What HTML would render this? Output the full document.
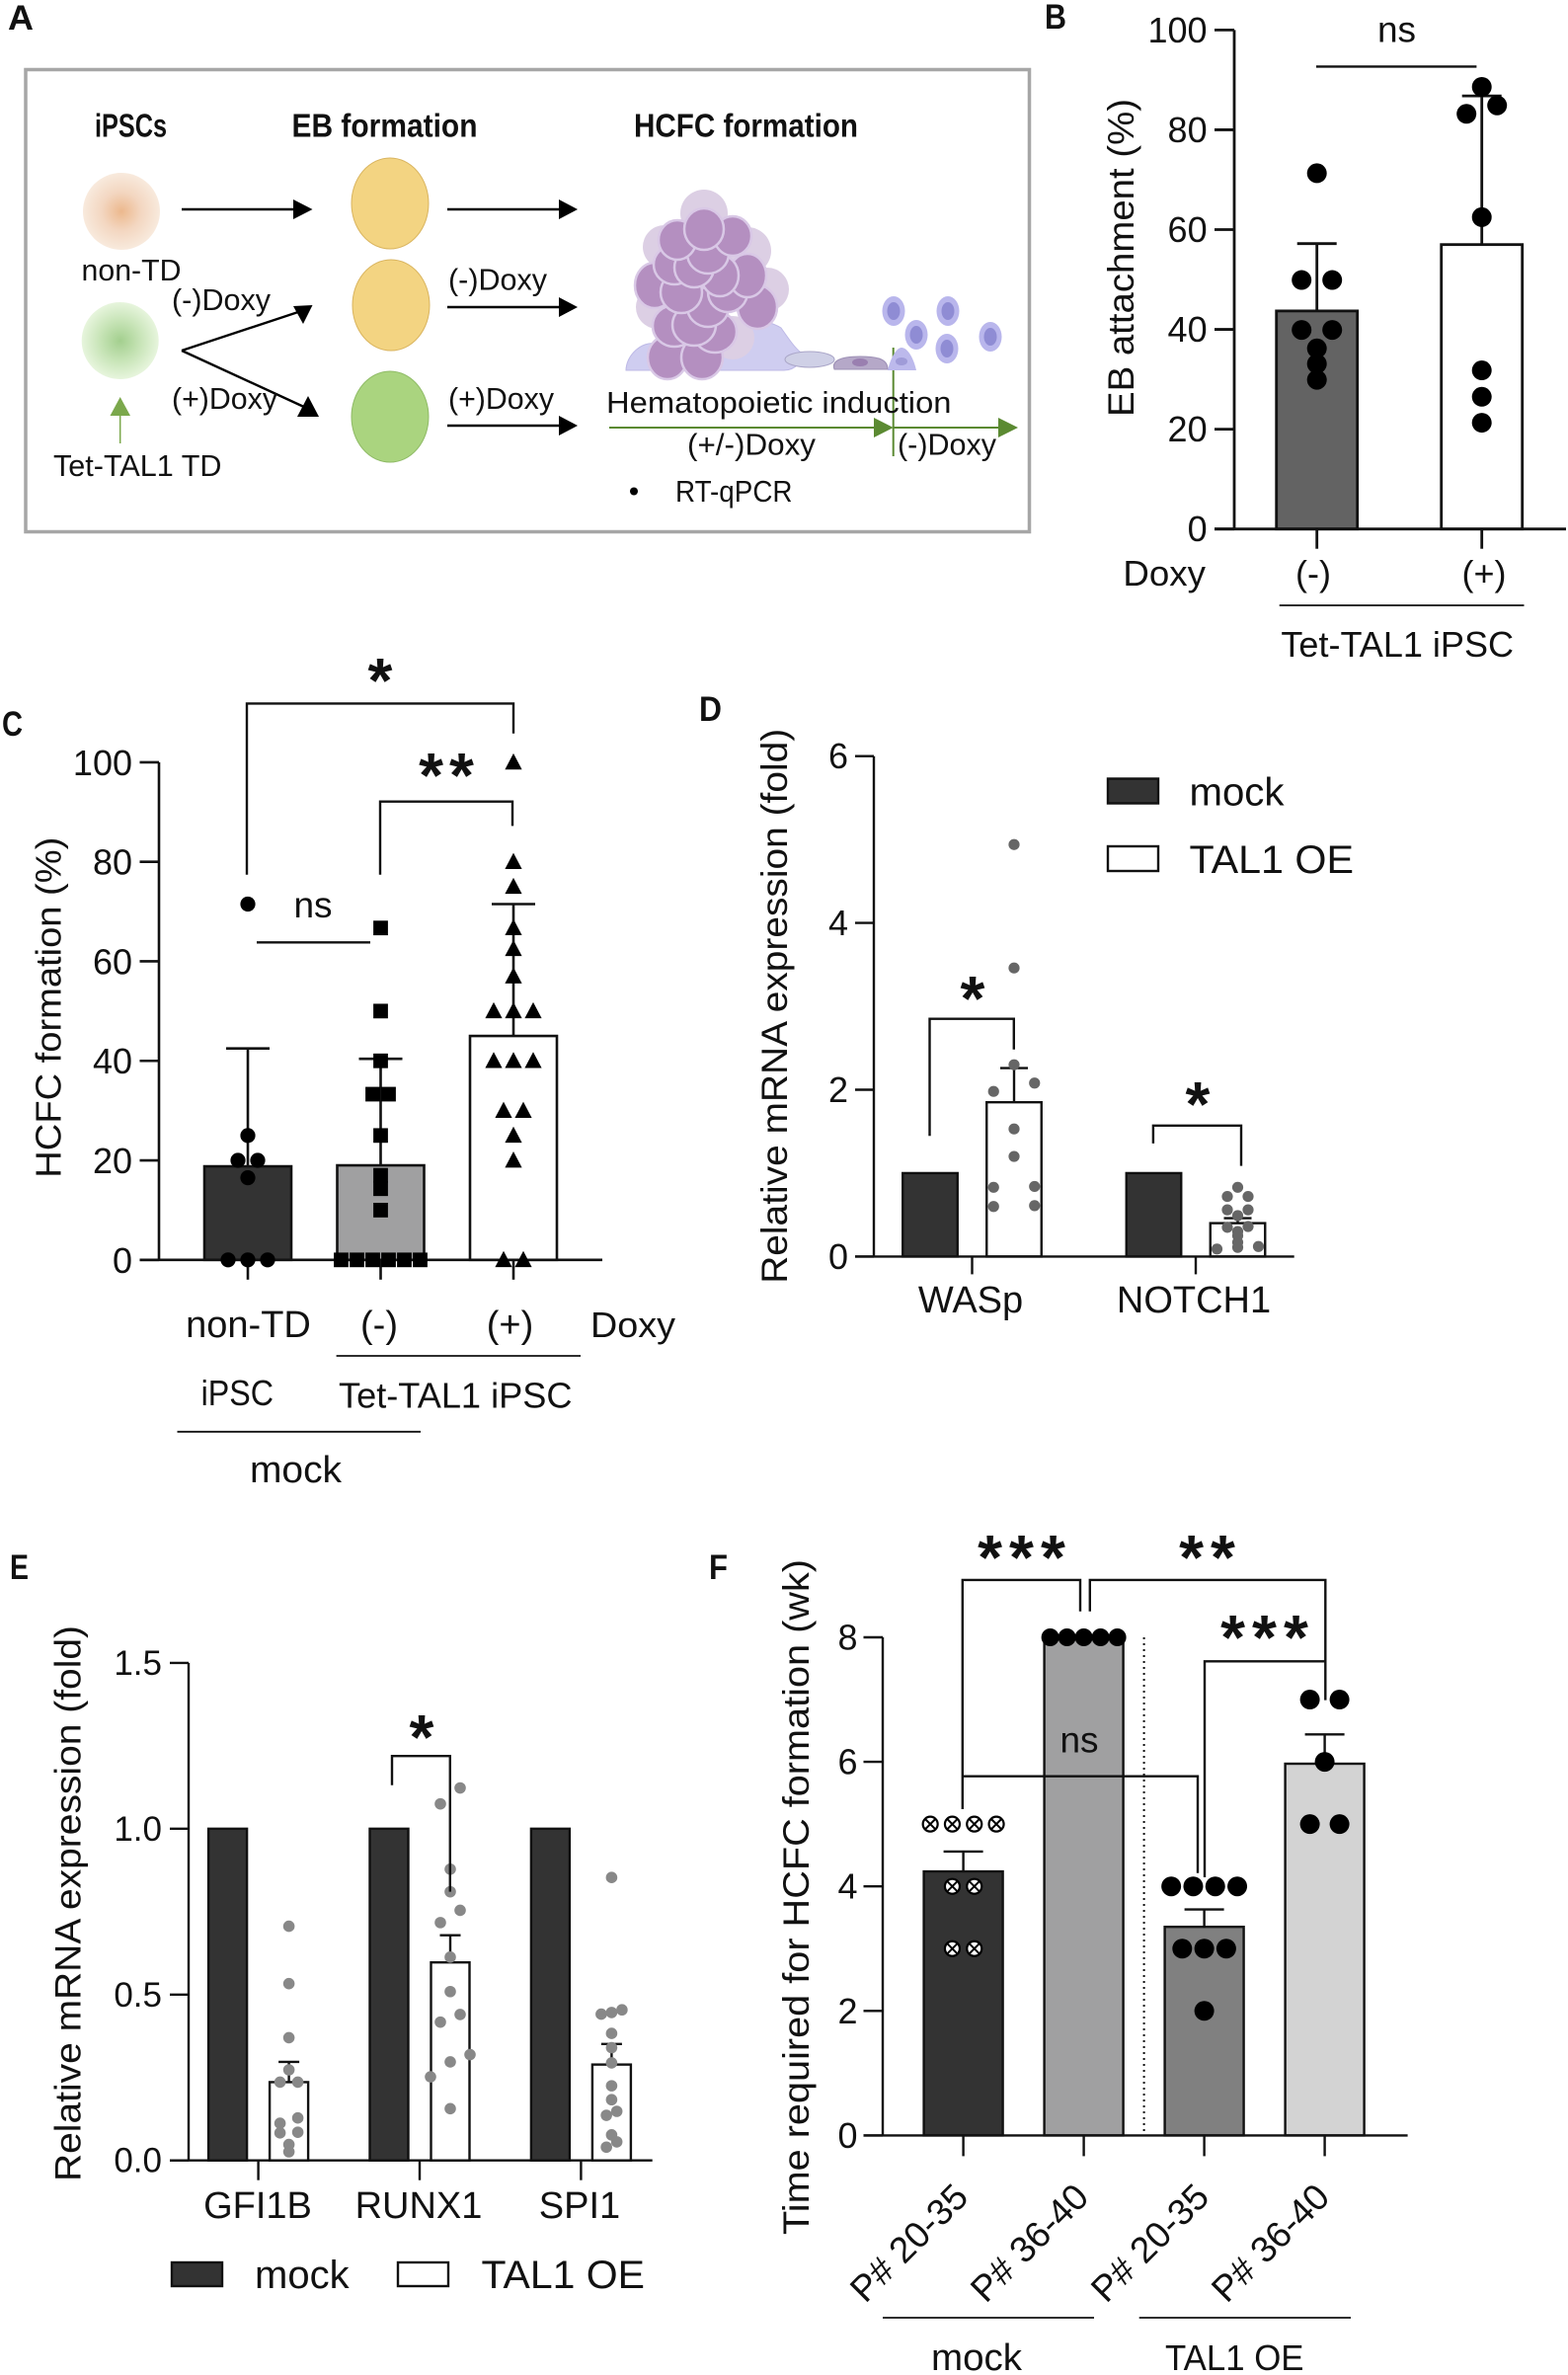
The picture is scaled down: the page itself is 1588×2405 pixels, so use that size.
<!DOCTYPE html>
<html lang="en">
<head>
<meta charset="utf-8">
<title>TAL1 iPSC figure</title>
<style>
html,body{margin:0;padding:0;background:#fff;}
svg{display:block;font-family:"Liberation Sans",sans-serif;}
text{fill:#111;}
.ln{stroke:#111;stroke-width:2.4;fill:none;}
.thin{stroke:#111;stroke-width:1.8;fill:none;}
.star{font-weight:bold;font-size:64px;text-anchor:middle;}
.lab{font-weight:bold;font-size:35px;}
.sch{font-size:31px;}
.schb{font-size:33px;font-weight:bold;}
</style>
</head>
<body>
<svg id="figure" xmlns="http://www.w3.org/2000/svg" width="1588" height="2405" viewBox="0 0 1588 2405">
<defs>
<radialGradient id="gradOrange"><stop offset="0" stop-color="#ecb88d"/><stop offset="0.5" stop-color="#f3d6c0"/><stop offset="1" stop-color="#f8eadd"/></radialGradient>
<radialGradient id="gradGreen"><stop offset="0" stop-color="#a3cf8e"/><stop offset="0.55" stop-color="#c9e5b9"/><stop offset="1" stop-color="#e7f5dd"/></radialGradient>
</defs>
<rect width="1588" height="2405" fill="#fff"/>

<!-- panel letters -->
<text class="lab" x="8" y="30" textLength="26" lengthAdjust="spacingAndGlyphs">A</text>
<text class="lab" x="1058" y="29" textLength="22" lengthAdjust="spacingAndGlyphs">B</text>
<text class="lab" x="2" y="745" textLength="21" lengthAdjust="spacingAndGlyphs">C</text>
<text class="lab" x="708" y="730" textLength="23" lengthAdjust="spacingAndGlyphs">D</text>
<text class="lab" x="10" y="1599" textLength="19" lengthAdjust="spacingAndGlyphs">E</text>
<text class="lab" x="718" y="1599" textLength="19" lengthAdjust="spacingAndGlyphs">F</text>

<!-- panel A schematic -->
<g id="panel-a">
<rect x="26" y="70.5" width="1016.5" height="468" fill="#fff" stroke="#a6a6a6" stroke-width="3.5"/>
<text class="schb" x="96" y="138.6" textLength="73" lengthAdjust="spacingAndGlyphs">iPSCs</text>
<text class="schb" x="295.5" y="138.6" textLength="188" lengthAdjust="spacingAndGlyphs">EB formation</text>
<text class="schb" x="642" y="138.6" textLength="227" lengthAdjust="spacingAndGlyphs">HCFC formation</text>
<circle cx="123" cy="214" r="39" fill="url(#gradOrange)"/>
<circle cx="121.7" cy="345" r="39" fill="url(#gradGreen)"/>
<ellipse cx="395" cy="206" rx="39" ry="46" fill="#f3d482" stroke="#d9b45f"/>
<ellipse cx="396" cy="309" rx="39" ry="46" fill="#f3d482" stroke="#d9b45f"/>
<ellipse cx="395" cy="422" rx="39" ry="46" fill="#aad47f" stroke="#8fbb66"/>
<g stroke="#000" stroke-width="2.4" fill="#000">
<path d="M184 212H298" /><path d="M297 202L316.5 212L297 222Z" stroke="none"/>
<path d="M453 212H567" /><path d="M566 202L585 212L566 222Z" stroke="none"/>
<path d="M453 311H567" /><path d="M566 301L585 311L566 321Z" stroke="none"/>
<path d="M453 431H567" /><path d="M566 421L585 431L566 441Z" stroke="none"/>
<path d="M184 355L305 315" /><path d="M297 310L316.5 309L307 328Z" stroke="none"/>
<path d="M184 355L310 413" /><path d="M312 401L323 422L301 422Z" stroke="none"/>
</g>
<g>
<path d="M121.7 449V415" stroke="#7ba84c" stroke-width="1.5"/><path d="M111.5 421L121.7 402L132 421Z" fill="#7ba84c"/>
<path d="M617 433H888" stroke="#5b8a32" stroke-width="2"/><path d="M885 423L904.7 433L885 443Z" fill="#5b8a32"/>
<path d="M904.7 433H1013" stroke="#5b8a32" stroke-width="2"/><path d="M1011 423L1031 433L1011 443Z" fill="#5b8a32"/>
<path d="M904.7 352V462" stroke="#5b8a32" stroke-width="2"/>
</g>
<g>
<path d="M634 375C634 360 650 345 664 348C680 350 700 342 730 340C745 320 775 322 791 332C800 345 805 352 811 357C815 365 805 375 794 375Z" fill="#cfcdf0" stroke="#bdb9e6"/>
<g fill="#dccfe4">
<circle cx="713" cy="216" r="24"/><circle cx="777" cy="293" r="22"/><circle cx="757" cy="254" r="24"/><circle cx="673" cy="250" r="22"/><circle cx="666" cy="311" r="22"/><circle cx="742" cy="342" r="22"/>
</g>
<g fill="#b48fc0" stroke="#d9c8e6" stroke-width="2.5">
<ellipse cx="676" cy="362" rx="20" ry="22"/><ellipse cx="711" cy="362" rx="21" ry="22"/><ellipse cx="724" cy="336" rx="22" ry="21"/><ellipse cx="683" cy="330" rx="22" ry="21"/><ellipse cx="703" cy="329" rx="22" ry="21"/><ellipse cx="767" cy="311" rx="20" ry="22"/><ellipse cx="663" cy="289" rx="20" ry="23"/><ellipse cx="717" cy="311" rx="21" ry="20"/><ellipse cx="737" cy="296" rx="20" ry="20"/><ellipse cx="690" cy="296" rx="21" ry="21"/><ellipse cx="757" cy="279" rx="19" ry="22"/><ellipse cx="729" cy="279" rx="19" ry="21"/><ellipse cx="683" cy="268" rx="21" ry="20"/><ellipse cx="703" cy="271" rx="20" ry="20"/><ellipse cx="717" cy="257" rx="21" ry="20"/><ellipse cx="686" cy="243" rx="19" ry="20"/><ellipse cx="742" cy="239" rx="19" ry="20"/><ellipse cx="713" cy="232" rx="20" ry="21"/>
</g>
<ellipse cx="820" cy="364" rx="25" ry="8" fill="#cfd0e6" stroke="#aaa6c8"/>
<path d="M845 374C842 366 850 361 871 361C890 361 899 364 899 374Z" fill="#b5a8c8" stroke="#9d90b5"/>
<ellipse cx="871" cy="367" rx="8" ry="4" fill="#9a7fb0"/>
<path d="M899 375C902 362 908 352 913 352C919 352 925 362 928 375Z" fill="#bcb9ec"/><ellipse cx="913" cy="366" rx="6" ry="4" fill="#9f9bd8"/>
<g fill="#b9b6ec"><ellipse cx="905" cy="315" rx="11.5" ry="15"/><ellipse cx="960" cy="315" rx="11.5" ry="15"/><ellipse cx="928" cy="339" rx="11.5" ry="15"/><ellipse cx="959" cy="353" rx="11.5" ry="15"/><ellipse cx="1003" cy="341" rx="11.5" ry="15"/></g>
<g fill="#8f8cd4"><ellipse cx="905" cy="315" rx="6.5" ry="9"/><ellipse cx="960" cy="315" rx="6.5" ry="9"/><ellipse cx="928" cy="339" rx="6.5" ry="9"/><ellipse cx="959" cy="353" rx="6.5" ry="9"/><ellipse cx="1003" cy="341" rx="6.5" ry="9"/></g>
</g>
<text class="sch" x="82.5" y="284" textLength="101" lengthAdjust="spacingAndGlyphs">non-TD</text>
<text class="sch" x="174" y="314" textLength="100" lengthAdjust="spacingAndGlyphs">(-)Doxy</text>
<text class="sch" x="454" y="293.6" textLength="100" lengthAdjust="spacingAndGlyphs">(-)Doxy</text>
<text class="sch" x="174" y="414" textLength="107" lengthAdjust="spacingAndGlyphs">(+)Doxy</text>
<text class="sch" x="454" y="414" textLength="107" lengthAdjust="spacingAndGlyphs">(+)Doxy</text>
<text class="sch" x="54" y="482" textLength="170.5" lengthAdjust="spacingAndGlyphs">Tet-TAL1 TD</text>
<text class="sch" x="614" y="418" textLength="349.5" lengthAdjust="spacingAndGlyphs">Hematopoietic induction</text>
<text class="sch" x="696" y="460.7" textLength="130" lengthAdjust="spacingAndGlyphs">(+/-)Doxy</text>
<text class="sch" x="909" y="460.7" textLength="100" lengthAdjust="spacingAndGlyphs">(-)Doxy</text>
<circle cx="642" cy="497.5" r="4" fill="#000"/>
<text class="sch" x="684" y="508" textLength="118.5" lengthAdjust="spacingAndGlyphs">RT-qPCR</text>
</g>

<!-- chart layers, filled by script -->
<g id="panel-b"></g>
<g id="panel-c"></g>
<g id="panel-d"></g>
<g id="panel-e"></g>
<g id="panel-f"></g>

<!-- panel B annotations -->
<g>
<text transform="translate(1148 422) rotate(-90)" font-size="37" textLength="322" lengthAdjust="spacingAndGlyphs">EB attachment (%)</text>
<text x="1414.5" y="42.4" font-size="37" text-anchor="middle">ns</text>
<path class="ln" d="M1333 67.4H1495.4"/>
<text x="1137.4" y="593" font-size="36" textLength="83.6" lengthAdjust="spacingAndGlyphs">Doxy</text>
<path class="thin" d="M1295.7 613H1543.5"/>
<text x="1297.4" y="665" font-size="36" textLength="235.6" lengthAdjust="spacingAndGlyphs">Tet-TAL1 iPSC</text>
</g>

<!-- panel C annotations -->
<g>
<text transform="translate(61.6 1192.7) rotate(-90)" font-size="36" textLength="345" lengthAdjust="spacingAndGlyphs">HCFC formation (%)</text>
<path class="ln" d="M250 885.8V712.4H520V742.7"/>
<path class="ln" d="M385 885.8V811.7H519V836.4"/>
<path class="ln" d="M260 954.3H375"/>
<text class="star" x="385" y="711">*</text>
<text class="star" x="455" y="807" letter-spacing="6">**</text>
<text x="317" y="929" font-size="37" text-anchor="middle">ns</text>
<text x="598" y="1354" font-size="36" textLength="86" lengthAdjust="spacingAndGlyphs">Doxy</text>
<path class="thin" d="M340.6 1373H588"/>
<text x="203.6" y="1423" font-size="36" textLength="73.4" lengthAdjust="spacingAndGlyphs">iPSC</text>
<text x="343" y="1425.6" font-size="36" textLength="236.5" lengthAdjust="spacingAndGlyphs">Tet-TAL1 iPSC</text>
<path class="thin" d="M179.5 1449.8H426"/>
<text x="253" y="1501" font-size="38" textLength="93" lengthAdjust="spacingAndGlyphs">mock</text>
</g>

<!-- panel D annotations -->
<g>
<text transform="translate(797 1299.8) rotate(-90)" font-size="37" textLength="562" lengthAdjust="spacingAndGlyphs">Relative mRNA expression (fold)</text>
<path class="ln" d="M941.5 1150.3V1031.7H1026.8V1062.8"/>
<path class="ln" d="M1167.9 1157.9V1139.8H1257V1180.6"/>
<text class="star" x="985" y="1033">*</text>
<text class="star" x="1213" y="1140">*</text>
<g>
<rect x="1122" y="788.5" width="51" height="25" fill="#333" stroke="#111" stroke-width="2.4"/>
<text x="1204.5" y="815.7" font-size="40" textLength="96" lengthAdjust="spacingAndGlyphs">mock</text>
<rect x="1122" y="857" width="51" height="25" fill="#fff" stroke="#111" stroke-width="2.4"/>
<text x="1204.5" y="884" font-size="40" textLength="166.5" lengthAdjust="spacingAndGlyphs">TAL1 OE</text>
</g>
</g>

<!-- panel E annotations -->
<g>
<text transform="translate(81.7 2209) rotate(-90)" font-size="37" textLength="563" lengthAdjust="spacingAndGlyphs">Relative mRNA expression (fold)</text>
<path class="ln" d="M397 1807.8V1778.2H455.8V1915.6"/>
<text class="star" x="427" y="1781">*</text>
<g>
<rect x="174" y="2291" width="51" height="24" fill="#333" stroke="#111" stroke-width="2.4"/>
<text x="258" y="2317" font-size="40" textLength="95.6" lengthAdjust="spacingAndGlyphs">mock</text>
<rect x="403" y="2291" width="51" height="24" fill="#fff" stroke="#111" stroke-width="2.4"/>
<text x="487.5" y="2317" font-size="40" textLength="165.5" lengthAdjust="spacingAndGlyphs">TAL1 OE</text>
</g>
</g>

<!-- panel F annotations (brackets drawn over bars) -->
<g id="panel-f-notes">
<text transform="translate(818.8 2263) rotate(-90)" font-size="37" textLength="684" lengthAdjust="spacingAndGlyphs">Time required for HCFC formation (wk)</text>
<path d="M1158.6 1658V2162" stroke="#111" stroke-width="2" stroke-dasharray="2 4" fill="none"/>
<path class="ln" d="M974.8 1832V1599.9H1094V1631.7"/>
<path class="ln" d="M1103.8 1631.7V1599.9H1342.3V1721.6"/>
<path class="ln" d="M1220 1901V1682.3H1342"/>
<path class="ln" d="M975 1798.7H1213V1896.7"/>
<text x="1093" y="1774.4" font-size="37" text-anchor="middle">ns</text>
<text class="star" x="1038" y="1599" letter-spacing="7">***</text>
<text class="star" x="1226" y="1599" letter-spacing="7">**</text>
<text class="star" x="1284" y="1680" letter-spacing="7">***</text>
<path class="thin" d="M894 2347H1108"/>
<path class="thin" d="M1153.7 2347H1368"/>
<text x="943" y="2400" font-size="38" textLength="92" lengthAdjust="spacingAndGlyphs">mock</text>
<text x="1180" y="2400" font-size="36" textLength="140.5" lengthAdjust="spacingAndGlyphs">TAL1 OE</text>
</g>

<script>
/* ---------- Panel B data ---------- */
const bCategories = ['(-)', '(+)'];
const bMeans = [43.7, 57];
const bErrorTops = [57.2, 86.8];
const bTickLabels = [0, 20, 40, 60, 80, 100];
const bPointsMinus = [71.3, 49.9, 49.9, 39.9, 39.9, 36.2, 33.1, 29.9];
const bPointsPlus = [88.6, 84.9, 83.2, 62.5, 31.8, 26.5, 21.3];

/* ---------- Panel C data ---------- */
const cCategories = ['non-TD', '(-)', '(+)'];
const cMeans = [18.8, 19, 45];
const cErrorTops = [42.5, 40.4, 71.5];
const cTickLabels = [0, 20, 40, 60, 80, 100];
const cPointsNonTd = [71.5, 25, 20, 20, 16.5, 0, 0, 0];
const cPointsMinus = [66.7, 50, 40, 33.3, 33.3, 25, 17, 14.3, 10, 0, 0, 0, 0, 0, 0];
const cPointsPlus = [100, 80, 75, 66.7, 62.5, 57, 50, 50, 50, 40, 40, 40, 30, 30, 25, 20, 0, 0];

/* ---------- Panel D data ---------- */
const dCategories = ['WASp', 'NOTCH1'];
const dMockMeans = [1, 1];
const dOeMeans = [1.85, 0.4];
const dOeErrorTops = [2.26, 0.46];
const dTickLabels = [0, 2, 4, 6];
const dPointsWasp = [4.94, 3.46, 2.3, 2.08, 1.98, 1.53, 1.2, 0.84, 0.83, 0.61, 0.6];
const dPointsNotch = [0.83, 0.72, 0.72, 0.56, 0.56, 0.49, 0.36, 0.35, 0.3, 0.25, 0.17, 0.12, 0.11, 0.09];

/* ---------- Panel E data ---------- */
const eCategories = ['GFI1B', 'RUNX1', 'SPI1'];
const eMockMeans = [1, 1, 1];
const eOeMeans = [0.236, 0.597, 0.289];
const eOeErrorTops = [0.297, 0.679, 0.351];
const eTickLabels = ['0.0', '0.5', '1.0', '1.5'];
const ePointsGfi = [0.706, 0.533, 0.37, 0.273, 0.236, 0.236, 0.128, 0.112, 0.085, 0.083, 0.048, 0.026];
const ePointsRunx = [1.123, 1.075, 0.878, 0.81, 0.754, 0.717, 0.613, 0.509, 0.44, 0.417, 0.319, 0.297, 0.252, 0.156];
const ePointsSpi = [0.853, 0.454, 0.446, 0.441, 0.383, 0.34, 0.294, 0.225, 0.183, 0.148, 0.136, 0.077, 0.056, 0.04];

/* ---------- Panel F data ---------- */
const fCategories = ['P# 20-35', 'P# 36-40', 'P# 20-35', 'P# 36-40'];
const fMeans = [4.24, 8, 3.35, 5.97];
const fErrorTops = [4.56, 8, 3.63, 6.44];
const fTickLabels = [0, 2, 4, 6, 8];
const fPointsMockEarly = [5, 5, 5, 5, 4, 4, 3, 3];
const fPointsMockLate = [8, 8, 8, 8, 8];
const fPointsOeEarly = [4, 4, 4, 4, 3, 3, 3, 2];
const fPointsOeLate = [7, 7, 6, 5, 5];

/* ---------- shared helpers ---------- */
const NS = 'http://www.w3.org/2000/svg';
const INK = '#111';

function mk(tag, attrs, parent) {
  const node = document.createElementNS(NS, tag);
  for (const k in attrs) node.setAttribute(k, attrs[k]);
  parent.appendChild(node);
  return node;
}
function yOf(p, v) { return p.y0 - (v / p.max) * (p.y0 - p.yTop); }
function xBand(p, i) { return p.x0 + p.step * i; }

function swarm(values, spacing, tol) {
  const sorted = values.slice().sort(function (a, b) { return a - b; });
  const out = [];
  let cluster = [];
  function flush() {
    cluster.forEach(function (v, i) {
      out.push({ v: v, dx: (i - (cluster.length - 1) / 2) * spacing });
    });
    cluster = [];
  }
  sorted.forEach(function (v) {
    if (cluster.length && v - cluster[cluster.length - 1] > tol) flush();
    cluster.push(v);
  });
  flush();
  return out;
}

function drawAxes(p, tickLabels, parent) {
  const yLine = mk('line', { x1: p.axisX, x2: p.axisX, y1: p.yTop, y2: p.y0, stroke: INK, 'stroke-width': p.sw }, parent);
  
  
  const xLine = mk('line', { x1: p.tickStart, x2: p.xEnd, y1: p.y0, y2: p.y0, stroke: INK, 'stroke-width': p.sw }, parent);
  
  
  tickLabels.forEach(function (label) {
    const y = yOf(p, Number(label));
    const tick = mk('line', { x1: p.tickStart, x2: p.axisX, y1: y, y2: y, stroke: INK, 'stroke-width': p.sw }, parent);
    
    
    const txt = mk('text', { x: p.labelEnd, y: y + p.labelDy, 'font-size': p.fs, 'text-anchor': 'end' }, parent);
    txt.textContent = String(label);
    
    
  });
}

function drawXTick(p, x, parent) {
  const tick = mk('line', { x1: x, x2: x, y1: p.y0, y2: p.y0 + p.tickLen, stroke: INK, 'stroke-width': p.sw }, parent);
  
  
}

function drawCategory(p, i, label, parent) {
  const txt = mk('text', { x: p.catX0 + p.catStep * i, y: p.catY, 'font-size': p.catFs, 'text-anchor': 'middle' }, parent);
  txt.textContent = label;
  
  
}

function drawBar(p, cx, value, fill, parent) {
  const top = yOf(p, value);
  const bar = mk('rect', { x: cx - p.barW / 2, y: top, width: p.barW, height: p.y0 - top, fill: fill, stroke: INK, 'stroke-width': p.barSw }, parent);
  
  
}

function drawError(p, cx, mean, errTop, parent) {
  if (errTop <= mean) return;
  const yA = yOf(p, mean), yB = yOf(p, errTop);
  const stem = mk('line', { x1: cx, x2: cx, y1: yA, y2: yB, stroke: INK, 'stroke-width': p.sw }, parent);
  
  
  const cap = mk('line', { x1: cx - p.capW / 2, x2: cx + p.capW / 2, y1: yB, y2: yB, stroke: INK, 'stroke-width': p.sw }, parent);
  
  
}

function drawPoints(p, cx, values, spacing, tol, shape, color, size, parent) {
  swarm(values, spacing, tol).forEach(function (pt) {
    const x = cx + pt.dx, y = yOf(p, pt.v);
    let el;
    if (shape === 'square') {
      el = mk('rect', { x: x - size, y: y - size, width: size * 2, height: size * 2, fill: color }, parent);
    } else if (shape === 'triangle') {
      el = mk('polygon', { points: (x - size) + ',' + (y + size * 0.85) + ' ' + x + ',' + (y - size * 1.05) + ' ' + (x + size) + ',' + (y + size * 0.85), fill: color }, parent);
    } else if (shape === 'cross') {
      el = mk('g', {}, parent);
      const ring = mk('circle', { cx: x, cy: y, r: size, fill: '#fff', stroke: '#000', 'stroke-width': 2.2 }, el);
      
      
      const k = size * 0.62;
      const mark = mk('path', { d: 'M' + (x - k) + ' ' + (y - k) + 'L' + (x + k) + ' ' + (y + k) + 'M' + (x + k) + ' ' + (y - k) + 'L' + (x - k) + ' ' + (y + k), stroke: '#000', 'stroke-width': 2, fill: 'none' }, el);
      
      
    } else {
      el = mk('circle', { cx: x, cy: y, r: size, fill: color }, parent);
    }
    
    
  });
}

/* ---------- Panel B ---------- */
const layoutB = { axisX: 1250, tickStart: 1230, xEnd: 1586, y0: 535.7, yTop: 30.4, max: 100, sw: 2.8, fs: 36, labelEnd: 1222.6, labelDy: 12.5, tickLen: 20, x0: 1333.7, step: 167, barW: 82, barSw: 2.8, capW: 40, catX0: 1330, catStep: 173, catY: 593, catFs: 36 };
(function () {
  const g = document.getElementById('panel-b');
  const fills = ['#636363', '#fff'];
  const series = [bPointsMinus, bPointsPlus];
  bMeans.forEach(function (m, i) { drawBar(layoutB, xBand(layoutB, i), m, fills[i], g); });
  drawAxes(layoutB, bTickLabels, g);
  bMeans.forEach(function (m, i) {
    const x = xBand(layoutB, i);
    drawXTick(layoutB, x, g);
    drawError(layoutB, x, m, bErrorTops[i], g);
    drawPoints(layoutB, x, series[i], 31, 2.5, 'circle', '#000', 10, g);
    drawCategory(layoutB, i, bCategories[i], g);
  });
})();

/* ---------- Panel C ---------- */
const layoutC = { axisX: 161, tickStart: 141.5, xEnd: 610, y0: 1275.8, yTop: 771.9, max: 100, sw: 2.6, fs: 36, labelEnd: 134, labelDy: 13, tickLen: 20, x0: 251, step: 134.5, barW: 88, barSw: 2.6, capW: 44, catX0: 251.5, catStep: 132.5, catY: 1354, catFs: 38 };
(function () {
  const g = document.getElementById('panel-c');
  const fills = ['#333333', '#a0a0a1', '#fff'];
  const series = [cPointsNonTd, cPointsMinus, cPointsPlus];
  const spacings = [20, 16, 20];
  const shapes = ['circle', 'square', 'triangle'];
  const sizes = [7.6, 7.4, 8.6];
  cMeans.forEach(function (m, i) { drawBar(layoutC, xBand(layoutC, i), m, fills[i], g); });
  drawAxes(layoutC, cTickLabels, g);
  cMeans.forEach(function (m, i) {
    const x = xBand(layoutC, i);
    drawXTick(layoutC, x, g);
    drawError(layoutC, x, m, cErrorTops[i], g);
    drawPoints(layoutC, x, series[i], spacings[i], 0.8, shapes[i], '#000', sizes[i], g);
    drawCategory(layoutC, i, cCategories[i], g);
  });
})();

/* ---------- Panel D ---------- */
const layoutD = { axisX: 885, tickStart: 866, xEnd: 1310.7, y0: 1272.4, yTop: 765.7, max: 6, sw: 2.4, fs: 36, labelEnd: 859, labelDy: 12.5, tickLen: 18, x0: 984.5, step: 226.5, dodge: 42.5, barW: 55.5, barSw: 2.4, capW: 28, catX0: 983, catStep: 226, catY: 1329, catFs: 38 };
(function () {
  const g = document.getElementById('panel-d');
  const series = [dPointsWasp, dPointsNotch];
  const spacings = [41.5, 21];
  const tols = [0.11, 0.03];
  dMockMeans.forEach(function (m, i) {
    const c = xBand(layoutD, i);
    drawBar(layoutD, c - layoutD.dodge, m, '#333', g);
    drawBar(layoutD, c + layoutD.dodge, dOeMeans[i], '#fff', g);
  });
  drawAxes(layoutD, dTickLabels, g);
  dMockMeans.forEach(function (m, i) {
    const c = xBand(layoutD, i);
    drawXTick(layoutD, c, g);
    drawError(layoutD, c + layoutD.dodge, dOeMeans[i], dOeErrorTops[i], g);
    drawPoints(layoutD, c + layoutD.dodge, series[i], spacings[i], tols[i], 'circle', '#666', 5.6, g);
    drawCategory(layoutD, i, dCategories[i], g);
  });
})();

/* ---------- Panel E ---------- */
const layoutE = { axisX: 191, tickStart: 172, xEnd: 660.7, y0: 2187.7, yTop: 1683.9, max: 1.5, sw: 2.4, fs: 35, labelEnd: 164, labelDy: 12, tickLen: 20, x0: 261.6, step: 163.4, dodge: 31, barW: 39, barSw: 2.4, capW: 21, catX0: 261, catStep: 163, catY: 2246, catFs: 38 };
(function () {
  const g = document.getElementById('panel-e');
  const series = [ePointsGfi, ePointsRunx, ePointsSpi];
  const spacings = [18, 20, 10.5];
  const tols = [0.02, 0.05, 0.02];
  eMockMeans.forEach(function (m, i) {
    const c = xBand(layoutE, i);
    drawBar(layoutE, c - layoutE.dodge, m, '#333', g);
    drawBar(layoutE, c + layoutE.dodge, eOeMeans[i], '#fff', g);
  });
  drawAxes(layoutE, eTickLabels, g);
  eMockMeans.forEach(function (m, i) {
    const c = xBand(layoutE, i);
    drawXTick(layoutE, c, g);
    drawError(layoutE, c + layoutE.dodge, eOeMeans[i], eOeErrorTops[i], g);
    drawPoints(layoutE, c + layoutE.dodge, series[i], spacings[i], tols[i], 'circle', '#888', 5.8, g);
    drawCategory(layoutE, i, eCategories[i], g);
  });
})();

/* ---------- Panel F ---------- */
const layoutF = { axisX: 894, tickStart: 874.5, xEnd: 1425.6, y0: 2162.4, yTop: 1658, max: 8, sw: 2.4, fs: 36, labelEnd: 868.5, labelDy: 12.5, tickLen: 21, x0: 975.6, step: 122, barW: 80, barSw: 2.4, capW: 40 };
(function () {
  const g = document.getElementById('panel-f');
  const fills = ['#333333', '#a0a0a1', '#808080', '#d3d3d3'];
  const series = [fPointsMockEarly, fPointsMockLate, fPointsOeEarly, fPointsOeLate];
  const spacings = [22.3, 17, 22.3, 30];
  const shapes = ['cross', 'circle', 'circle', 'circle'];
  const sizes = [7.5, 9, 10, 10];
  fMeans.forEach(function (m, i) { drawBar(layoutF, xBand(layoutF, i), m, fills[i], g); });
  drawAxes(layoutF, fTickLabels, g);
  fMeans.forEach(function (m, i) {
    const x = xBand(layoutF, i);
    drawXTick(layoutF, x, g);
    drawError(layoutF, x, m, fErrorTops[i], g);
    drawPoints(layoutF, x, series[i], spacings[i], 0.1, shapes[i], '#000', sizes[i], g);
    const txt = mk('text', { 'font-size': 37, 'text-anchor': 'end', transform: 'translate(' + (x + 7) + ' 2227) rotate(-45)' }, g);
    txt.textContent = fCategories[i];
    
    
  });
})();
</script>
</svg>
</body>
</html>
